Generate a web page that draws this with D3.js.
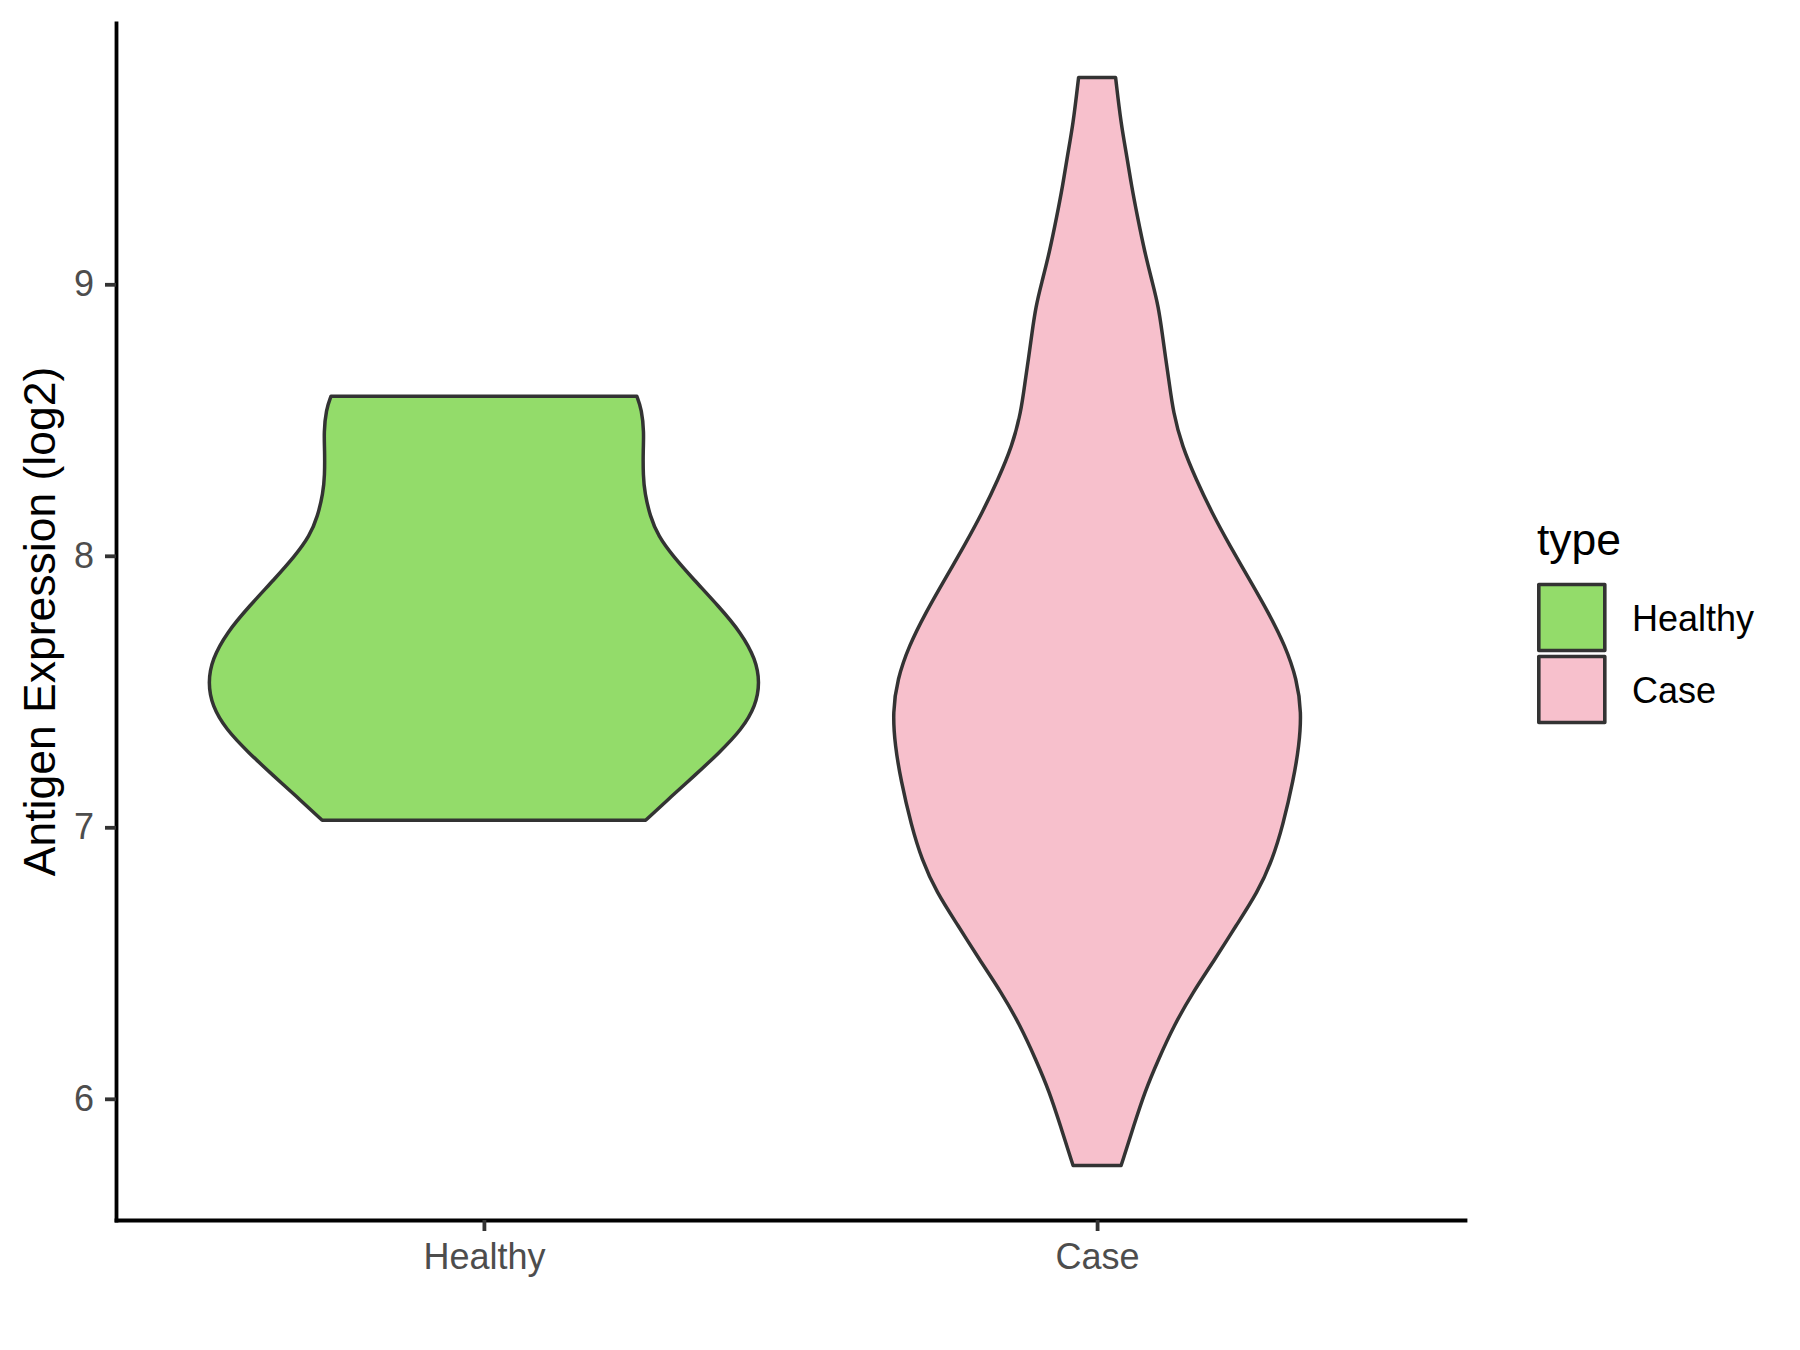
<!DOCTYPE html>
<html>
<head>
<meta charset="utf-8">
<script src="https://cdn.jsdelivr.net/npm/d3@7"></script>
<style>
  body { margin: 0; background: #fff; }
  text { font-family: Arial, "Liberation Sans", sans-serif; }
</style>
</head>
<body>
<div id="chart-area"></div>
<script>
// violin profiles: value (log2) and relative density
var categories = ["Healthy", "Case"];
var fillColors = ["#93DC6A", "#F7C0CC"];
var yTicks = [6, 7, 8, 9];

var healthyValues = [8.588, 8.539, 8.453, 8.392, 8.293, 8.232, 8.146, 8.072, 7.999, 7.913,
    7.815, 7.717, 7.619, 7.533, 7.447, 7.361, 7.275, 7.189, 7.116, 7.026];
var healthyDensity = [0.554, 0.572, 0.580, 0.577, 0.577, 0.583, 0.602, 0.632, 0.685, 0.760,
    0.850, 0.932, 0.985, 1.000, 0.985, 0.935, 0.853, 0.762, 0.682, 0.586];

var caseValues = [9.762, 9.588, 9.471, 9.361, 9.250, 9.116, 9.005, 8.919, 8.821, 8.723,
    8.649, 8.527, 8.404, 8.281, 8.159, 8.036, 7.913, 7.791, 7.668, 7.545,
    7.423, 7.300, 7.177, 7.005, 6.883, 6.760, 6.637, 6.515, 6.392, 6.269,
    6.147, 6.024, 5.901, 5.754];
var caseDensity = [0.067, 0.087, 0.108, 0.125, 0.146, 0.173, 0.201, 0.222, 0.236, 0.249,
    0.260, 0.276, 0.308, 0.359, 0.416, 0.482, 0.552, 0.621, 0.682, 0.724,
    0.741, 0.732, 0.712, 0.673, 0.636, 0.582, 0.503, 0.428, 0.347, 0.278,
    0.223, 0.172, 0.133, 0.087];

var violins = [
    { type: "Healthy", values: healthyValues, density: healthyDensity },
    { type: "Case", values: caseValues, density: caseDensity }
];

var margin = {left: 116, right: 335, top: 23, bottom: 130};
var width = 1800 - margin.left - margin.right;
var height = 1350 - margin.top - margin.bottom;

var svg = d3.select("#chart-area")
  .append("svg")
    .attr("width", 1800)
    .attr("height", 1350);

svg.append("rect")
    .attr("width", 1800)
    .attr("height", 1350)
    .attr("fill", "white");

var g = svg.append("g")
    .attr("transform", "translate(" + margin.left + ", " + margin.top + ")");

var x = d3.scalePoint()
    .domain(categories)
    .range([0, width])
    .padding(0.6);

var allValues = healthyValues.concat(caseValues);
var vMin = d3.min(allValues), vMax = d3.max(allValues);
var pad = (vMax - vMin) * 0.05;

var y = d3.scaleLinear()
    .domain([vMin - pad, vMax + pad])
    .range([height, 0]);

var w = d3.scaleLinear()
    .domain([0, 1])
    .range([0, x.step() * 0.45]);

var color = d3.scaleOrdinal()
    .domain(categories)
    .range(fillColors);

violins.forEach(function(v) {
    var cx = x(v.type);
    var pts = v.values.map(function(val, i) { return [val, v.density[i]]; });
    var area = d3.area()
        .curve(d3.curveBasis)
        .y(function(d) { return y(d[0]); })
        .x0(function(d) { return cx - w(d[1]); })
        .x1(function(d) { return cx + w(d[1]); });
    g.append("path")
        .datum(pts)
        .attr("d", area)
        .attr("fill", color(v.type))
        .attr("stroke", "#333333")
        .attr("stroke-width", 3.5)
        .attr("stroke-linejoin", "round");
});

var leftAxis = d3.axisLeft(y)
    .tickValues(yTicks)
    .tickFormat(d3.format("d"))
    .tickSize(11)
    .tickSizeOuter(0)
    .tickPadding(11);
var gy = g.append("g")
    .attr("class", "left axis")
    .call(leftAxis);

var bottomAxis = d3.axisBottom(x)
    .tickSize(11)
    .tickSizeOuter(0)
    .tickPadding(12);
var gx = g.append("g")
    .attr("class", "bottom axis")
    .attr("transform", "translate(0, " + height + ")")
    .call(bottomAxis);

[gx, gy].forEach(function(a) {
    a.select(".domain").attr("stroke", "black").attr("stroke-width", 3.8).attr("stroke-linecap", "square");
    a.selectAll(".tick line").attr("stroke", "#333333").attr("stroke-width", 3.8);
    a.selectAll(".tick text").attr("fill", "#4D4D4D").attr("font-size", "36px");
});

g.append("text")
    .attr("class", "y axis-label")
    .attr("x", -(height / 2))
    .attr("y", 55 - margin.left)
    .attr("font-size", "44.5px")
    .attr("text-anchor", "middle")
    .attr("transform", "rotate(-90)")
    .text("Antigen Expression (log2)");

// legend
var legend = svg.append("g")
    .attr("transform", "translate(1537, 555)");

legend.append("text")
    .attr("x", 0)
    .attr("y", 0)
    .attr("font-size", "44.5px")
    .text("type");

var keys = legend.selectAll(".key").data(categories)
    .enter().append("g")
    .attr("class", "key")
    .attr("transform", function(d, i) { return "translate(0, " + (27 + i * 72) + ")"; });

keys.append("rect")
    .attr("x", 1.8)
    .attr("y", 2.5)
    .attr("width", 66)
    .attr("height", 66)
    .attr("fill", function(d) { return color(d); })
    .attr("stroke", "#333333")
    .attr("stroke-width", 3.6)
    .attr("stroke-linejoin", "round");

keys.append("text")
    .attr("x", 95)
    .attr("y", 36)
    .attr("dy", "0.35em")
    .attr("font-size", "36px")
    .attr("fill", "black")
    .text(function(d) { return d; });
</script>
</body>
</html>
